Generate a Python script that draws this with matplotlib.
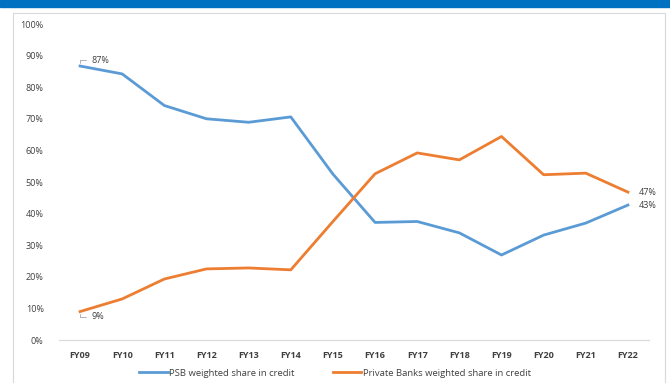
import matplotlib.pyplot as plt
from matplotlib.patches import Rectangle

years = ["FY09", "FY10", "FY11", "FY12", "FY13", "FY14", "FY15",
         "FY16", "FY17", "FY18", "FY19", "FY20", "FY21", "FY22"]
psb = [86.7, 84.2, 74.2, 70.0, 68.9, 70.6, 52.5, 37.2, 37.5, 33.9, 26.9, 33.2, 37.0, 42.7]
pvt = [9.0, 13.0, 19.3, 22.5, 22.8, 22.2, 37.5, 52.6, 59.2, 57.0, 64.4, 52.3, 52.8, 46.8]

plt.rcParams['font.family'] = ['Open Sans', 'DejaVu Sans']
blue = "#5B9BD5"
orange = "#ED7D31"
txt = "#404040"

fig = plt.figure(figsize=(6.7, 3.83), dpi=100)
# top band and outer frame
fig.patches.append(Rectangle((0, 1 - 7 / 383), 1, 7 / 383, transform=fig.transFigure,
                             color="#0070C0", zorder=0))
fig.patches.append(Rectangle((13 / 670, -0.05), 652 / 670, 1.05 - 13 / 383,
                             transform=fig.transFigure, fill=False,
                             edgecolor="#D9D9D9", lw=0.8, zorder=0))

ax = fig.add_axes([59 / 670, 1 - 340 / 383, 590 / 670, 316 / 383])
x = list(range(len(years)))
l1, = ax.plot(x, psb, color=blue, lw=2.0, label="PSB weighted share in credit")
l2, = ax.plot(x, pvt, color=orange, lw=2.0, label="Private Banks weighted share in credit")

ax.set_xlim(-0.5, len(years) - 0.5)
ax.set_ylim(0, 100)
ax.set_yticks(range(0, 101, 10))
ax.set_yticklabels([f"{v}%" for v in range(0, 101, 10)])
ax.set_xticks(x)
ax.set_xticklabels(years)
for s in ["top", "right", "left"]:
    ax.spines[s].set_visible(False)
ax.spines["bottom"].set_color("#D9D9D9")
ax.tick_params(length=0, labelsize=6.5, colors=txt, pad=8)
ax.tick_params(axis="y", pad=11)
for lbl in ax.get_xticklabels():
    lbl.set_fontweight("bold")

# data labels
ax.annotate("87%", xy=(0, psb[0]), xytext=(0.28, psb[0] + 1.8), fontsize=6.5, color=txt,
            va="center", arrowprops=dict(arrowstyle="-", color="#A6A6A6", lw=0.6,
                                         connectionstyle="angle,angleA=0,angleB=90,rad=0"))
ax.annotate("9%", xy=(0, pvt[0]), xytext=(0.28, pvt[0] - 1.6), fontsize=6.5, color=txt,
            va="center", arrowprops=dict(arrowstyle="-", color="#A6A6A6", lw=0.6,
                                         connectionstyle="angle,angleA=0,angleB=90,rad=0"))
ax.text(13.25, pvt[-1], "47%", fontsize=6.5, color=txt, va="center")
ax.text(13.25, psb[-1], "43%", fontsize=6.5, color=txt, va="center")

fig.legend(handles=[l1, l2], loc="center", bbox_to_anchor=(0.5, 1 - 373 / 383),
           ncol=2, frameon=False, fontsize=6.8, handlelength=3.0, columnspacing=4,
           handletextpad=0.2, labelcolor=txt)

fig.savefig("out.png", dpi=100)
